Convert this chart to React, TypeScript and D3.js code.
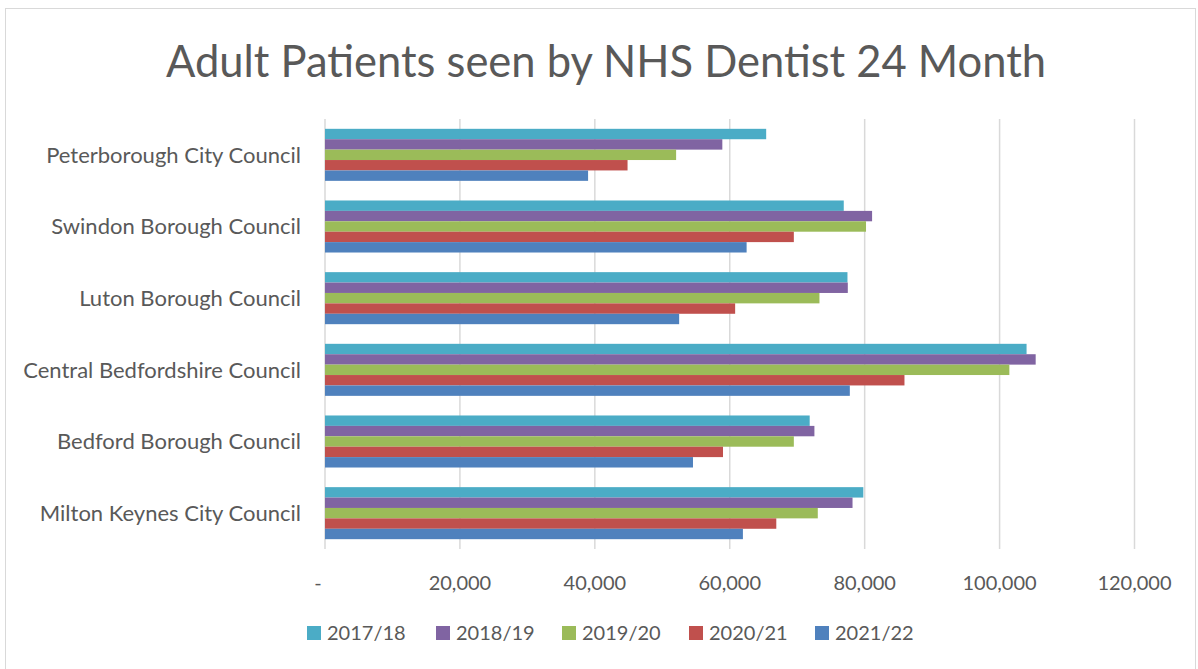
import React from "react";
import * as d3 from "d3";

const categories = [
  "Peterborough City Council",
  "Swindon Borough Council",
  "Luton Borough Council",
  "Central Bedfordshire Council",
  "Bedford Borough Council",
  "Milton Keynes City Council",
];

const seriesNames = ["2017/18", "2018/19", "2019/20", "2020/21", "2021/22"];
const seriesColors = ["#4BACC6", "#8064A2", "#9BBB59", "#C0504D", "#4F81BD"];

const values2017 = [65400, 76900, 77450, 104000, 71850, 79800];
const values2018 = [58900, 81100, 77500, 105350, 72550, 78200];
const values2019 = [52050, 80200, 73300, 101450, 69500, 73050];
const values2020 = [44850, 69500, 60800, 85900, 59000, 66900];
const values2021 = [39000, 62500, 52500, 77800, 54550, 61950];

const seriesValues = [values2017, values2018, values2019, values2020, values2021];

const xTicks = [0, 20000, 40000, 60000, 80000, 100000, 120000];

const W = 1198;
const H = 669;
const left = 325;
const right = 1134.5;
const top = 119;
const bottom = 549;
const FONT = "Lato, 'Open Sans', sans-serif";
const TEXT = "#595959";

export default function App() {
  const x = d3.scaleLinear().domain([0, 120000]).range([left, right]);
  const y = d3
    .scaleBand<string>()
    .domain(categories)
    .range([top, bottom])
    .paddingInner(0.274)
    .paddingOuter(0.137);
  const inner = d3
    .scaleBand<string>()
    .domain(seriesNames)
    .range([0, y.bandwidth()]);
  const fmt = (v: number) => (v === 0 ? "-" : d3.format(",")(v));

  const legendX = [307, 436, 562, 689, 815];

  return (
    <svg
      width={W}
      height={H}
      style={{ position: "absolute", left: 0, top: 0, background: "#fff" }}
      fontFamily={FONT}
    >
      <rect x={5.5} y={8.5} width={1190} height={670} fill="#fff" stroke="#D9D9D9" strokeWidth={1} />
      <text x={606} y={77} textAnchor="middle" fontSize={43.5} fill={TEXT}>
        Adult Patients seen by NHS Dentist 24 Month
      </text>
      {xTicks.map((t) => (
        <line
          key={"g" + t}
          x1={x(t)}
          x2={x(t)}
          y1={top}
          y2={bottom}
          stroke="#D9D9D9"
          strokeWidth={1.5}
        />
      ))}
      {categories.map((c, ci) =>
        seriesNames.map((s, si) => (
          <rect
            key={c + s}
            x={x(0)}
            y={(y(c) as number) + (inner(s) as number)}
            width={x(seriesValues[si][ci]) - x(0)}
            height={inner.bandwidth()}
            fill={seriesColors[si]}
          />
        ))
      )}
      {categories.map((c) => (
        <text
          key={"l" + c}
          x={301}
          y={(y(c) as number) + y.bandwidth() / 2}
          dy="0.35em"
          textAnchor="end"
          fontSize={22}
          fill={TEXT}
        >
          {c}
        </text>
      ))}
      {xTicks.map((t) => (
        <text
          key={"t" + t}
          x={t === 0 ? x(t) - 7 : x(t)}
          y={583}
          dy="0.35em"
          textAnchor="middle"
          fontSize={20}
          fill={TEXT}
        >
          {fmt(t)}
        </text>
      ))}
      {seriesNames.map((s, i) => (
        <g key={"lg" + s} transform={`translate(${legendX[i]},633)`}>
          <rect x={0} y={-7} width={14} height={14} fill={seriesColors[i]} />
          <text x={20} y={0} dy="0.35em" fontSize={20} fill={TEXT}>
            {s}
          </text>
        </g>
      ))}
    </svg>
  );
}
